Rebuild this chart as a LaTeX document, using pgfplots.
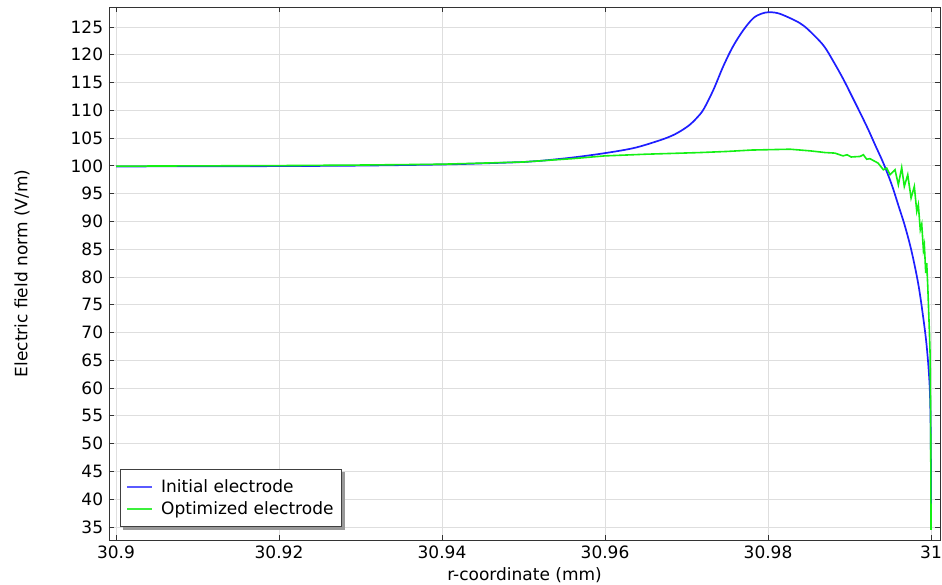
\documentclass[border=0pt]{standalone}
\usepackage{fontspec}
\setmainfont{DejaVu Sans}
\usepackage{pgfplots}
\pgfplotsset{compat=1.18}
\definecolor{cblue}{RGB}{30,30,255}
\definecolor{cgreen}{RGB}{20,240,20}
\definecolor{lblue}{RGB}{90,90,255}
\definecolor{lgreen}{RGB}{60,240,60}
\begin{document}
\fontsize{17pt}{20pt}\selectfont
\begin{tikzpicture}
\path[use as bounding box] (-109pt,-45pt) rectangle (833pt,540pt);
\begin{axis}[
  scale only axis, width=831pt, height=533pt,
  at={(0pt,0pt)}, anchor=south west,
  xmin=30.89914, xmax=31.0011, ymin=32.66, ymax=128.6,
  xtick={30.9,30.92,30.94,30.96,30.98,31},
  xticklabels={30.9,30.92,30.94,30.96,30.98,31},
  ytick={35,40,...,125},
  /pgf/number format/assume math mode=true,
  tick label style={font=\fontsize{17pt}{20pt}\selectfont},
  label style={font=\fontsize{17pt}{20pt}\selectfont},
  tick align=inside, major tick length=5pt,
  xtick pos=both, ytick pos=both,
  tick style={black!80, line width=0.8pt},
  axis line style={black!80, line width=0.9pt},
  grid=major, major grid style={black!13, line width=0.9pt},
  xlabel={r-coordinate (mm)},
  ylabel={Electric field norm (V/m)},
  xlabel style={at={(axis description cs:0.5,0)}, anchor=center, yshift=-35pt},
  ylabel style={at={(axis description cs:-0.1047,0.5)}, anchor=center},
  legend style={at={(axis description cs:0.0132,0.0244)}, anchor=south west,
    name=leg,
    draw=black!75, line width=0.8pt, fill=white,
    font=\fontsize{17pt}{20pt}\selectfont, inner xsep=6pt, inner ysep=8pt,
    row sep=2pt, column sep=6pt,
    legend cell align=left},
  legend image code/.code={\draw[#1] (0pt,0pt) -- (25pt,0pt);},
]
\addlegendimage{draw=lblue, line width=1.8pt}
\addlegendentry{Initial electrode}
\addlegendimage{draw=lgreen, line width=1.6pt}
\addlegendentry{Optimized electrode}
\addplot[cblue, line width=1.7pt, smooth, tension=0.55, forget plot] coordinates {
(30.9,99.9) (30.91,99.92) (30.92,99.96) (30.93,100.05) (30.94,100.25)
(30.945,100.45) (30.95,100.7) (30.952,100.9) (30.956,101.5) (30.960,102.3)
(30.9635,103.2) (30.9663,104.4) (30.9680,105.3) (30.9692,106.2) (30.9704,107.4)
(30.9713,108.7) (30.9721,110.2) (30.9733,113.7) (30.9745,117.9) (30.9757,121.5)
(30.9770,124.5) (30.9782,126.6) (30.9792,127.4) (30.9800,127.65) (30.9808,127.6)
(30.9815,127.35) (30.9827,126.6) (30.9839,125.7) (30.98495,124.5) (30.98679,121.7) (30.98802,118.8)
(30.98924,115.6) (30.99027,112.6) (30.99129,109.6) (30.99231,106.5) (30.99313,103.8)
(30.99415,100.5) (30.99518,96.6) (30.99599,92.9) (30.99681,89.1) (30.99763,84.5)
(30.99845,78.6) (30.99906,72.5) (30.99947,67.5) (30.99979,61.5) (30.99992,56)
(30.99998,48) (31.0,34.5)
};
\addplot[cgreen, line width=1.6pt, forget plot] coordinates {
(30.9,99.95) (30.91,100.0) (30.92,100.05) (30.93,100.15) (30.94,100.3)
(30.95,100.7) (30.952,100.9) (30.956,101.3) (30.960,101.8) (30.965,102.1)
(30.9717,102.4) (30.975,102.6) (30.978,102.85) (30.9827,103.0) (30.9852,102.7)
(30.9870,102.4) (30.9882,102.3) (30.9892,101.8) (30.9897,102.0) (30.9902,101.6)
(30.9913,101.7) (30.9917,102.0) (30.9921,101.2) (30.9925,101.3) (30.9935,100.5)
(30.99415,99.3) (30.99456,99.6) (30.99497,98.4) (30.99558,99.3) (30.99599,96.6)
(30.99640,99.7) (30.99672,96.3) (30.99714,98.4) (30.99755,94.2) (30.99795,96.3)
(30.99825,91.8) (30.99844,93.0) (30.99868,88.5) (30.99886,89.5) (30.99906,84.9)
(30.99918,85.8) (30.99935,80.7) (30.99947,82.5) (30.99960,78.3) (30.99979,70.5)
(30.99988,66.3) (30.99995,55) (31.0,34.5)
};
\end{axis}
\fill[black!40] ([xshift=3pt,yshift=-3.4pt]leg.south west) rectangle ([xshift=3.4pt,yshift=-0.4pt]leg.south east);
\fill[black!40] ([xshift=0.4pt,yshift=-3pt]leg.south east) rectangle ([xshift=3.4pt,yshift=-3pt]leg.north east);
\end{tikzpicture}
\end{document}
